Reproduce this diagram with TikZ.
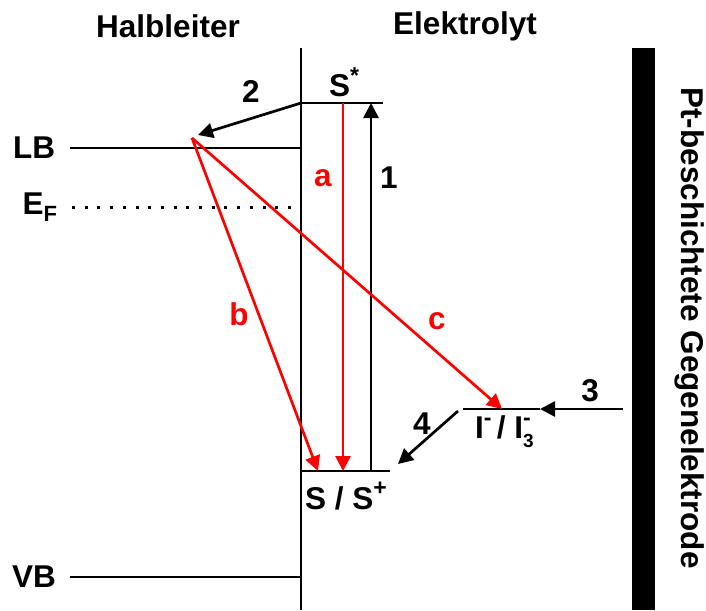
\documentclass[tikz,border=0pt]{standalone}
\usepackage{fontspec}
\setmainfont{Liberation Sans}
\usetikzlibrary{arrows.meta,positioning}

% raised index in the label font
\newcommand{\hochs}[1]{\raisebox{0.42em}{\fontsize{23}{23}\selectfont #1}}

\tikzset{
  lvl/.style={line width=2.7pt},
  blkarr/.style={line width=2.7pt, -{Triangle[length=15pt,width=15pt]}},
  redarr/.style={blkarr, red},
  lbl/.style={font=\fontsize{31.5}{33}\selectfont\bfseries},
}

\begin{document}
\begin{tikzpicture}[x=1pt, y=-1pt]
\useasboundingbox (0,0) rectangle (706,610);

% Headings
\node[lbl] (hl) at (168,26) {Halbleiter};
\node[lbl] (el) at (465,26) {Elektrolyt};

% Interface
\coordinate (ifTop) at (301,48);
\coordinate (ifBot) at (301,610);
\draw[lvl] (ifTop) -- (ifBot);

% Bands in the semiconductor
\coordinate (lbL) at (70,148);  \coordinate (lbR) at (301,148);
\coordinate (vbL) at (70,577);  \coordinate (vbR) at (301,577);
\coordinate (efL) at (72,207);  \coordinate (efR) at (298,207);
\draw[lvl] (lbL) -- (lbR);
\draw[lvl] (vbL) -- (vbR);
\draw[line width=3pt, dash pattern=on 3pt off 9.7pt] (efL) -- (efR);
\node[lbl] (lb) at (34,148) {LB};
\node[lbl] (vb) at (34,577) {VB};
\node[lbl] (ef) at (40,207) {E\textsubscript{F}};

% Dye levels
\coordinate (sxL) at (301,103); \coordinate (sxR) at (383,103);
\coordinate (sgL) at (301,471); \coordinate (sgR) at (390,471);
\draw[lvl] (sxL) -- (sxR);
\draw[lvl] (sgL) -- (sgR);
\node[lbl] (sx) at (344,82) {S\hochs{*}};
\node[lbl] (sg) at (346,496) {S / S\hochs{+}};

% Redox level
\coordinate (rdL) at (463,409); \coordinate (rdR) at (540,409);
\draw[lvl] (rdL) -- (rdR);
\node[lbl] (rd) at (503,432) {I\hochs{-}\,/ I\makebox[0pt][l]{\raisebox{-9pt}{\fontsize{19}{19}\selectfont 3}}\raisebox{13pt}{\fontsize{23}{23}\selectfont -}};

% Counter electrode
\fill (632,48) rectangle (655,610);
\node[lbl, rotate=-90] (ce) at (690,328) {Pt-beschichtete Gegenelektrode};

% Transfer steps
\coordinate (eLB) at (192,138);
\coordinate (tip2) at (198,135);
\coordinate (aTop) at (343,103); \coordinate (aBot) at (343,471);
\coordinate (oneBot) at (371,471); \coordinate (oneTop) at (371,103);
\coordinate (bTip) at (318,471);
\coordinate (cTip) at (502,409);
\coordinate (threeS) at (623,409);
\coordinate (fourS) at (458,411); \coordinate (fourE) at (398,464);

\draw[blkarr] (sxL) -- (tip2);
\draw[blkarr] (oneBot) -- (oneTop);
\draw[redarr] (aTop) -- (aBot);
\draw[redarr] (eLB) -- (bTip);
\draw[redarr] (eLB) -- (cTip);
\draw[blkarr] (threeS) -- (rdR);
\draw[blkarr] (fourS) -- (fourE);

% Step labels
\node[lbl] (n1) at (389,178) {1};
\node[lbl] (n2) at (251,92) {2};
\node[lbl] (n3) at (590,391) {3};
\node[lbl] (n4) at (422,424) {4};
\node[lbl, red] (na) at (323,178) {a};
\node[lbl, red] (nb) at (239,314) {b};
\node[lbl, red] (nc) at (437,321) {c};

\end{tikzpicture}
\end{document}
